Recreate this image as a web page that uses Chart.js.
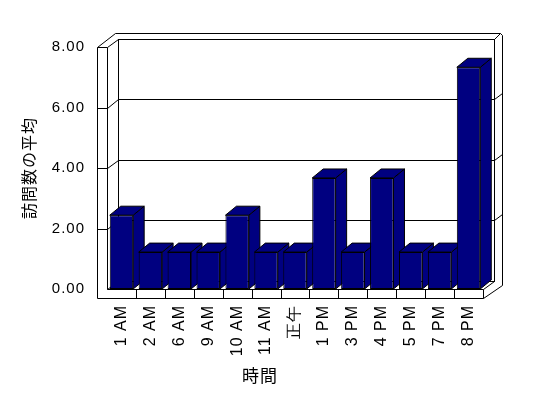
<!DOCTYPE html>
<html><head><meta charset="utf-8">
<script src="https://cdn.jsdelivr.net/npm/chart.js@4.4.0/dist/chart.umd.min.js"></script>
<style>html,body{margin:0;padding:0;background:#fff;}#wrap{width:548px;height:398px;}</style>
</head><body><div id="wrap"><canvas id="c" width="548" height="398"></canvas></div>
<script>
// ---- data ----
const categories = ['1 AM','2 AM','6 AM','9 AM','10 AM','11 AM','正午','1 PM','3 PM','4 PM','5 PM','7 PM','8 PM'];
const averageVisits = [2.44, 1.22, 1.22, 1.22, 2.44, 1.22, 1.22, 3.67, 1.22, 3.67, 1.22, 1.22, 7.33];
const yTickValues = [0, 2, 4, 6, 8];
const xTitle = '時間';
const yTitle = '訪問数の平均';

// ---- 3D look ----
const WALL = {dx: 11, dy: -8.5};
const OUTER = {dx: 19, dy: -14};
const BAR = {dx: 11, dy: -9};
const THICK = 10;

const frame3d = {
  id: 'frame3d',
  beforeDraw(chart) {
    chart.ctx.letterSpacing = '1px';
  },
  beforeDatasetsDraw(chart) {
    const ctx = chart.ctx;
    const {left: L, right: R, top: T, bottom: B} = chart.chartArea;
    const ys = chart.scales.y, xs = chart.scales.x;
    const P = v => Math.round(v) + 0.5;
    const line = pts => { ctx.beginPath(); ctx.moveTo(pts[0][0], pts[0][1]); for (let i = 1; i < pts.length; i++) ctx.lineTo(pts[i][0], pts[i][1]); ctx.stroke(); };
    const poly = pts => { ctx.beginPath(); ctx.moveTo(pts[0][0], pts[0][1]); for (let i = 1; i < pts.length; i++) ctx.lineTo(pts[i][0], pts[i][1]); ctx.closePath(); ctx.fill(); ctx.stroke(); };
    ctx.save();
    ctx.strokeStyle = '#000';
    ctx.lineWidth = 1;
    const FB = B + 9;
    // left wall front face
    line([[P(L - THICK), P(T)], [P(L), P(T)], [P(L), P(B)]]);
    line([[P(L - THICK), P(T)], [P(L - THICK), P(FB)]]);
    // floor front face
    line([[P(L), P(B)], [P(R), P(B)], [P(R), P(FB)]]);
    line([[P(L - THICK), P(FB)], [P(R), P(FB)]]);
    for (let i = 1; i < categories.length; i++) {
      const x = (xs.getPixelForTick(i - 1) + xs.getPixelForTick(i)) / 2;
      line([[P(x), P(B)], [P(x), P(FB)]]);
    }
    // floor right end
    line([[P(R), P(B)], [P(R + WALL.dx), P(B + WALL.dy)]]);
    line([[P(R), P(FB)], [P(R + OUTER.dx), P(B - 4)]]);
    // back wall inner face
    ctx.strokeRect(P(L + WALL.dx), P(T + WALL.dy), Math.round(R - L), Math.round(B - T));
    // outer thickness
    line([[P(L - THICK), P(T)], [P(L + 8), P(T + OUTER.dy)], [P(R + OUTER.dx - 2), P(T + OUTER.dy)], [P(R + OUTER.dx), P(T + OUTER.dy + 2)], [P(R + OUTER.dx), P(B - 4)]]);
    line([[P(L), P(T)], [P(L + WALL.dx), P(T + WALL.dy)]]);
    line([[P(R + WALL.dx), P(T + WALL.dy)], [P(R + OUTER.dx - 2), P(T + OUTER.dy)]]);
    line([[P(L), P(B)], [P(L + WALL.dx), P(B + WALL.dy)]]);
    // gridlines
    const vmax = yTickValues[yTickValues.length - 1];
    yTickValues.forEach(v => {
      if (v <= 0 || v >= vmax) return;
      const y = ys.getPixelForValue(v);
      line([[P(L - THICK), P(y)], [P(L), P(y)], [P(L + WALL.dx), P(y + WALL.dy)], [P(R + WALL.dx), P(y + WALL.dy)], [P(R + OUTER.dx), P(y + WALL.dy - 6)]]);
    });
    // bar side and top faces
    ctx.fillStyle = '#000080';
    const meta = chart.getDatasetMeta(0);
    meta.data.forEach(bar => {
      const {x, y, width, base} = bar.getProps(['x', 'y', 'width', 'base'], true);
      const l = x - width / 2, r = x + width / 2;
      poly([[r, y], [r + BAR.dx, y + BAR.dy], [r + BAR.dx, base + BAR.dy], [r, base]]);
      poly([[l, y], [l + BAR.dx, y + BAR.dy], [r + BAR.dx, y + BAR.dy], [r, y]]);
    });
    ctx.restore();
  }
};

Chart.defaults.color = '#000';
Chart.defaults.font.family = "'Liberation Sans', Arial, sans-serif";

new Chart(document.getElementById('c'), {
  type: 'bar',
  data: {
    labels: categories,
    datasets: [{
      data: averageVisits,
      backgroundColor: '#000080',
      borderColor: '#000',
      borderWidth: 1,
      borderSkipped: false,
      categoryPercentage: 1,
      barPercentage: 0.81
    }]
  },
  options: {
    responsive: false,
    animation: false,
    layout: {padding: {left: 0, right: 28, top: 47, bottom: 0}},
    plugins: {
      legend: {display: false},
      tooltip: {enabled: false},
      title: {
        display: true, text: xTitle, position: 'bottom', color: '#000',
        font: {family: "'Noto Sans CJK JP', sans-serif", size: 17, weight: 'normal'},
        padding: {top: 0, bottom: 12}
      }
    },
    scales: {
      x: {
        grid: {display: false, drawTicks: false},
        border: {display: false},
        ticks: {autoSkip: false, minRotation: 90, maxRotation: 90, padding: 16, font: {size: 16}, color: '#000'},
        afterFit: s => { s.height = 76.6; }
      },
      y: {
        min: 0, max: 8,
        grid: {display: false, drawTicks: false},
        border: {display: false},
        afterBuildTicks: s => { s.ticks = yTickValues.map(v => ({value: v})); },
        ticks: {padding: 22, font: {size: 15}, color: '#000', callback: v => Number(v).toFixed(2)},
        title: {display: true, text: yTitle, color: '#000', font: {family: "'Noto Sans CJK JP', sans-serif", size: 16}, padding: {top: 19, bottom: 0}},
        afterFit: s => { s.width = 107; }
      },
      y2: {
        type: 'linear', position: 'right', display: true,
        grid: {display: false, drawTicks: false},
        border: {display: false},
        ticks: {display: false},
        afterFit: s => { s.width = 37; }
      }
    }
  },
  plugins: [frame3d]
});
</script>
</body></html>
